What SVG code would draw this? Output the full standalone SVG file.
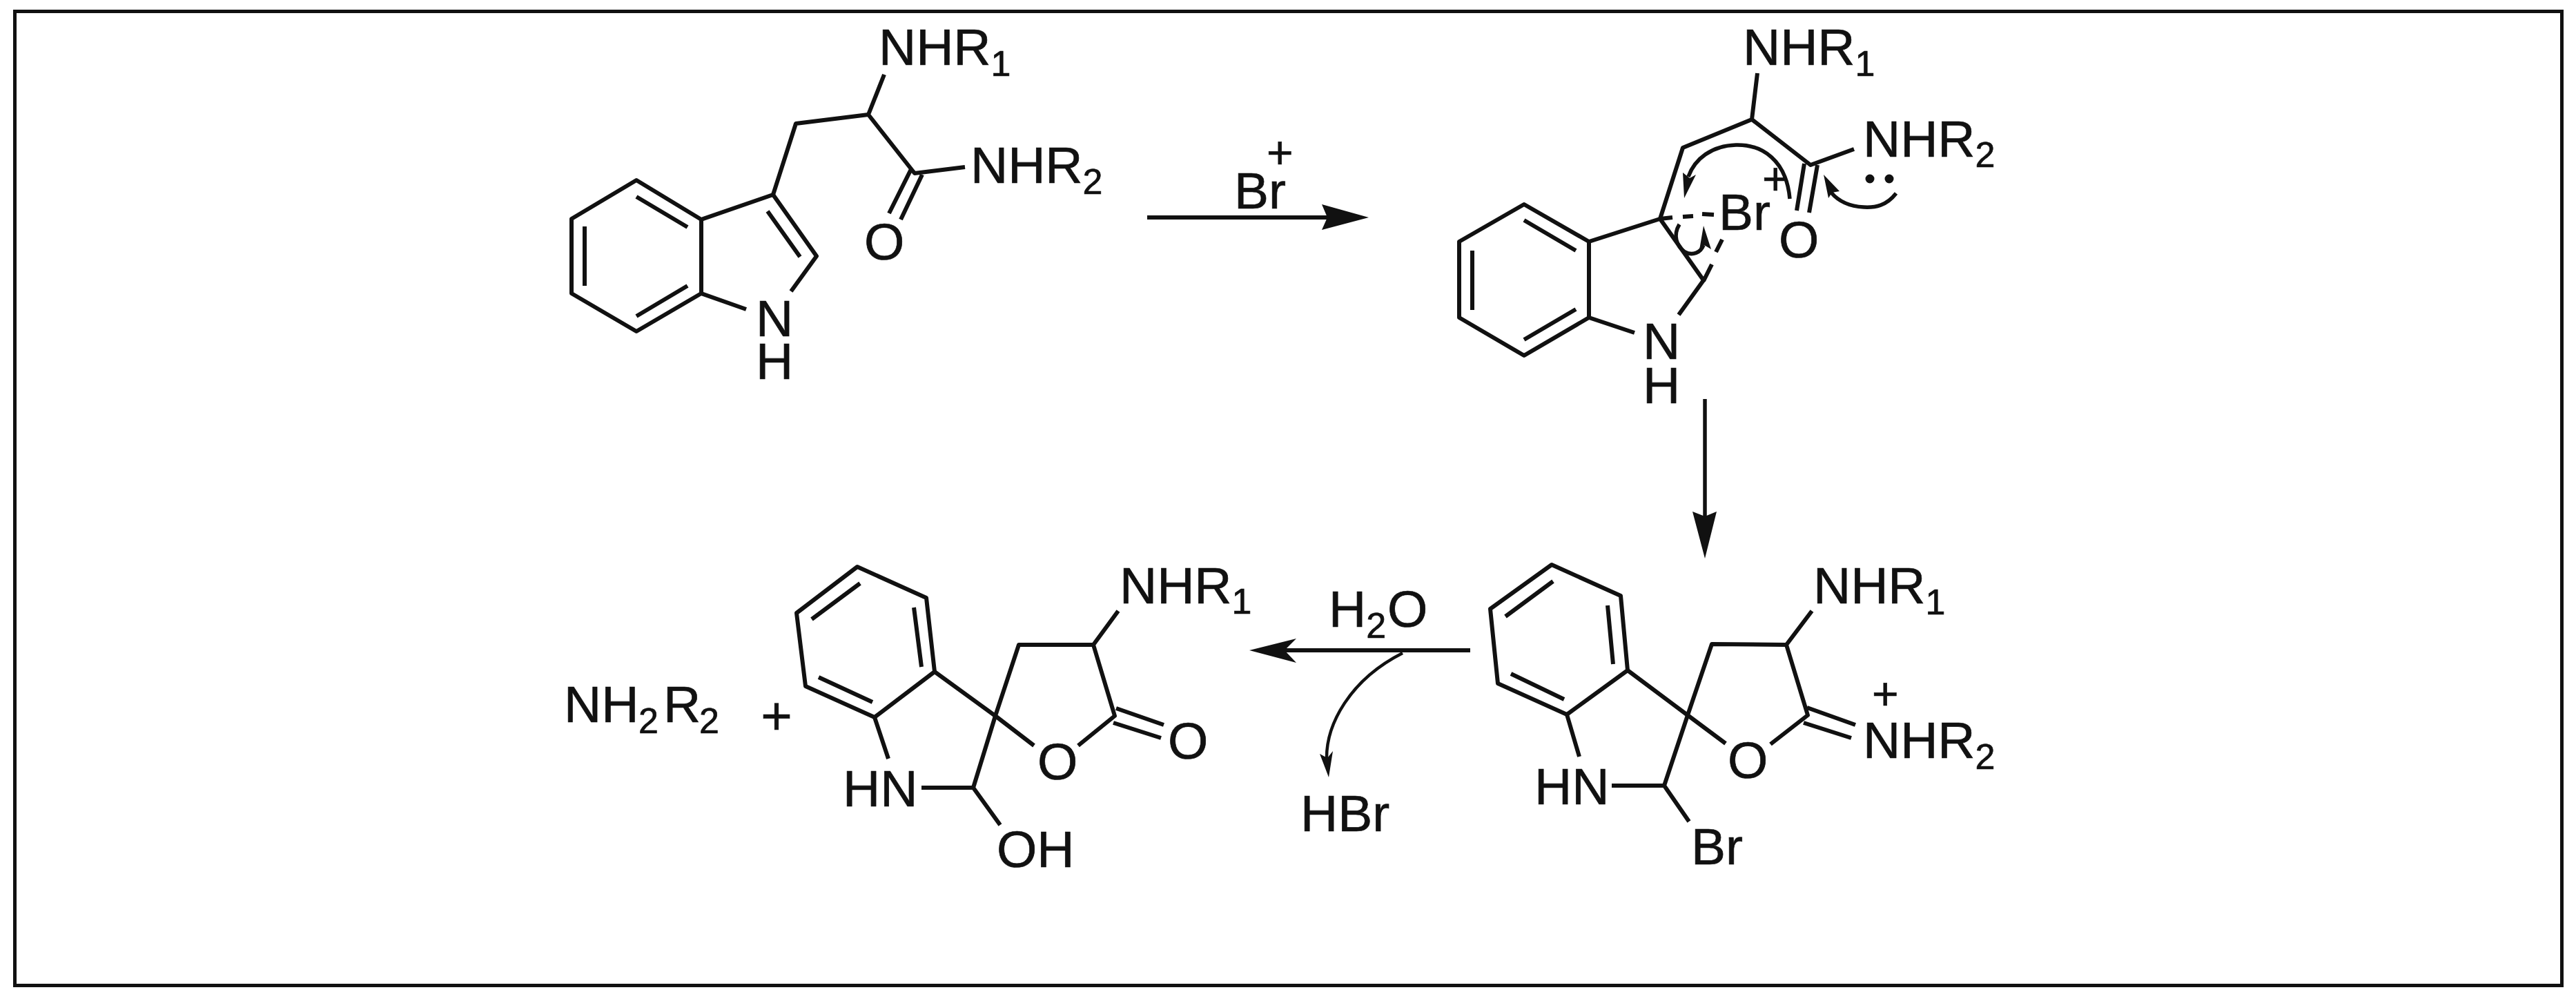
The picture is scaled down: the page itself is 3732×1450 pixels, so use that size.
<svg xmlns="http://www.w3.org/2000/svg" width="3732" height="1450" viewBox="0 0 3732 1450">
<style>
.b{fill:none;stroke:#111;stroke-width:6;stroke-linecap:butt;stroke-linejoin:round}
.c{fill:none;stroke:#111;stroke-width:5.5}
.h{fill:#111;stroke:none}
.t{font-family:"Liberation Sans",Arial,sans-serif;font-size:75px;fill:#111;stroke:#111;stroke-width:.7}
.s{font-size:52px}
.p{font-size:66px}
</style>
<rect width="3732" height="1450" fill="#fff"/>
<rect x="21.5" y="16.5" width="3690" height="1411" fill="none" stroke="#111" stroke-width="5"/>

<g id="tryptophan">
<path class="b" d="M922,261L1016,318L1016,425L922,480L828,425L828,317Z"/>
<path class="b" d="M922,285L996,329M847,328L847,414M922,458L996,414"/>
<path class="b" d="M1016,318L1120,282L1183,371L1146,422M1081,448L1016,425M1112,306L1159,372"/>
<path class="b" d="M1120,282L1153,179L1258,166L1281,108M1258,166L1325,251L1398,242M1320,245L1288,309M1336,253L1305,318"/>
<text class="t" x="1273" y="94">NHR<tspan class="s" dy="16">1</tspan></text>
<text class="t" x="1406" y="265">NHR<tspan class="s" dy="16">2</tspan></text>
<text class="t" x="1252" y="376">O</text>
<text class="t" x="1095" y="487">N<tspan x="1095" y="549">H</tspan></text>
</g>

<g id="bromonium-intermediate">
<path class="b" d="M2208,296L2302,350L2302,460L2208,515L2114,460L2114,350Z"/>
<path class="b" d="M2208,319L2283,363M2133,363L2133,449M2208,492L2283,448"/>
<path class="b" d="M2302,350L2405,317L2468,406L2432,456M2368,482L2302,460"/>
<path class="b" d="M2405,317L2438,214L2538,173L2546,106M2538,173L2623,239L2686,216M2614,237L2603,305M2633,239L2621,308"/>
<path class="b" d="M2405,317L2423,315M2438,314L2453,313M2466,310L2483,311M2495,347L2486,365M2480,383L2468,407"/>
<path class="c" d="M2593,288C2588,232 2553,209 2515,210C2480,211 2455,230 2446,256"/>
<polygon class="h" points="2440,287 2438,250 2448,258 2457,253"/>
<path class="c" d="M2433,325C2424,340 2428,356 2441,365C2452,371 2464,366 2468,355"/>
<polygon class="h" points="2468,327 2479,361 2469,355 2462,362"/>
<path class="c" d="M2747,280C2733,298 2717,301 2700,300C2680,299 2664,292 2653,279"/>
<polygon class="h" points="2642,253 2665,277 2654,279 2649,287"/>
<circle class="h" cx="2709" cy="259" r="6.5"/><circle class="h" cx="2737" cy="259" r="6.5"/>
<text class="t" x="2490" y="333">Br<tspan class="p" x="2553" y="282">+</tspan></text>
<text class="t" x="2577" y="373">O</text>
<text class="t" x="2525" y="94">NHR<tspan class="s" dy="16">1</tspan></text>
<text class="t" x="2699" y="227">NHR<tspan class="s" dy="15">2</tspan></text>
<text class="t" x="2380" y="520">N<tspan x="2380" y="584">H</tspan></text>
</g>

<g id="spiro-iminium">
<path class="b" d="M2248,818L2348,863L2358,971L2270,1035L2170,990L2159,882Z"/>
<path class="b" d="M2250,842L2181,893M2329,877L2337,962M2189,976L2266,1013"/>
<path class="b" d="M2358,971L2445,1036L2500,1077M2270,1035L2288,1096M2445,1036L2480,933L2588,934L2625,885M2588,934L2619,1036L2565,1078M2618,1025L2688,1050M2613,1047L2682,1069"/>
<path class="b" d="M2445,1036L2411,1138L2335,1138M2411,1138L2447,1190"/>
<text class="t" x="2627" y="874">NHR<tspan class="s" dy="16">1</tspan></text>
<text class="t" x="2699" y="1098">NHR<tspan class="s" dy="16">2</tspan><tspan class="p" x="2712" y="1028">+</tspan></text>
<text class="t" x="2503" y="1127">O</text>
<text class="t" x="2223" y="1165">HN</text>
<text class="t" x="2450" y="1252">Br</text>
</g>

<g id="spiro-lactone">
<path class="b" d="M1242,821L1342,866L1354,973L1267,1039L1167,994L1154,888Z"/>
<path class="b" d="M1246,845L1176,897M1324,880L1335,966M1186,981L1264,1017"/>
<path class="b" d="M1354,973L1442,1037L1498,1080M1267,1039L1287,1099M1442,1037L1476,934L1584,934L1620,885M1584,934L1615,1037L1562,1080M1617,1026L1686,1050M1613,1047L1682,1069"/>
<path class="b" d="M1442,1037L1410,1141L1335,1141M1410,1141L1449,1195"/>
<text class="t" x="1622" y="874">NHR<tspan class="s" dy="15">1</tspan></text>
<text class="t" x="1503" y="1129">O</text>
<text class="t" x="1692" y="1099">O</text>
<text class="t" x="1221" y="1168">HN</text>
<text class="t" x="1444" y="1256">OH</text>
</g>

<g id="amine-product">
<text class="t" x="817" y="1046">NH<tspan class="s" x="925" dy="16">2</tspan><tspan x="961" dy="-16">R</tspan><tspan class="s" x="1013" dy="16">2</tspan></text>
</g>
<g id="plus"><text class="t" x="1125" y="1064" text-anchor="middle" style="font-size:78px">+</text></g>

<g id="reagent-br"><text class="t" x="1788" y="302">Br<tspan class="p" x="1835" y="244">+</tspan></text></g>
<g id="reagent-h2o"><text class="t" x="1925" y="908">H<tspan class="s" dy="16">2</tspan><tspan x="2010" dy="-16">O</tspan></text></g>
<g id="product-hbr"><text class="t" x="1884" y="1204">HBr</text></g>

<g id="connectors">
<path class="c" style="stroke-width:6" d="M1662,315L1925,315"/>
<polygon class="h" points="1983,315 1915,296 1923,315 1915,333"/>
<path class="c" d="M2470,578L2470,750"/>
<polygon class="h" points="2470,809 2452,741 2470,748 2487,741"/>
<path class="c" style="stroke-width:6" d="M2130,942L1855,942"/>
<polygon class="h" points="1810,942 1878,925 1861,942 1878,960"/>
<path class="c" style="stroke-width:4.5" d="M2032,946C1955,985 1921,1050 1922,1100"/>
<polygon class="h" points="1925,1126 1912,1092 1923,1098 1931,1088"/>
</g>
</svg>
